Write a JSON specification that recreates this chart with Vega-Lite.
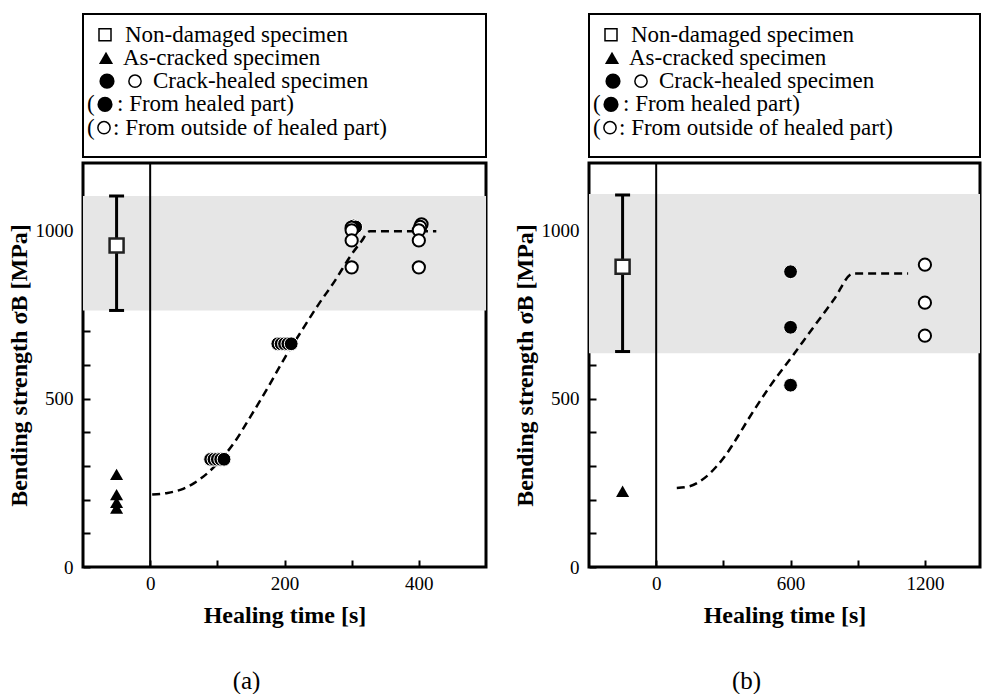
{
  "$schema": "https://vega.github.io/schema/vega-lite/v6.json",
  "padding": {"left": 5, "top": 13, "right": 0, "bottom": 0},
  "background": "white",
  "config": {
    "font": "Liberation Serif",
    "axis": {
      "labelFont": "Liberation Serif", "labelFontSize": 19, "labelColor": "black",
      "titleFont": "Liberation Serif", "titleFontSize": 24, "titleFontWeight": "bold", "titleColor": "black",
      "tickColor": "black", "tickWidth": 2, "tickSize": -7, "domain": false, "grid": false,
      "labelOverlap": false, "labelFlush": false, "labelBound": false
    },
    "title": {"font": "Liberation Serif", "fontSize": 25, "fontWeight": "normal", "color": "black"},
    "view": {"stroke": "black", "strokeWidth": 3}
  },
  "spacing": 23,
  "hconcat": [
    {
      "title": {"text": "(a)", "orient": "bottom", "anchor": "middle", "frame": "bounds", "offset": 40},
      "bounds": "flush",
      "spacing": 6,
      "vconcat": [
        {
          "width": 403, "height": 143,
          "view": {"stroke": "black", "strokeWidth": 2},
          "encoding": {
            "x": {"field": "x", "type": "quantitative", "scale": {"domain": [0, 403]}, "axis": null},
            "y": {"field": "row", "type": "quantitative", "scale": {"domain": [6.26, 0.11]}, "axis": null}
          },
          "layer": [
            {
              "data": {"values": [
                {"row": 1, "x": 42, "label": "Non-damaged specimen"},
                {"row": 2, "x": 40, "label": "As-cracked specimen"},
                {"row": 3, "x": 70, "label": "Crack-healed specimen"},
                {"row": 4, "x": 4, "label": "("},
                {"row": 4, "x": 34, "label": ": From healed part)"},
                {"row": 5, "x": 4, "label": "("},
                {"row": 5, "x": 30, "label": ": From outside of healed part)"}
              ]},
              "mark": {"type": "text", "align": "left", "baseline": "middle", "fontSize": 23, "font": "Liberation Serif", "color": "black"},
              "encoding": {"text": {"field": "label"}}
            },
            {
              "data": {"values": [{"row": 1, "x": 22}]},
              "mark": {"type": "point", "shape": "square", "size": 144, "fill": "white", "stroke": "black", "strokeWidth": 1.5, "opacity": 1}
            },
            {
              "data": {"values": [{"row": 2, "x": 23}]},
              "mark": {"type": "point", "shape": "triangle-up", "size": 200, "filled": true, "color": "black", "opacity": 1}
            },
            {
              "data": {"values": [{"row": 3, "x": 24}, {"row": 4, "x": 22}]},
              "mark": {"type": "circle", "size": 230, "color": "black", "opacity": 1}
            },
            {
              "data": {"values": [{"row": 3, "x": 52}, {"row": 5, "x": 21}]},
              "mark": {"type": "circle", "size": 150, "fill": "white", "stroke": "black", "strokeWidth": 1.5, "opacity": 1}
            }
          ]
        },
        {
          "width": 403, "height": 404,
          "encoding": {
            "x": {"field": "t", "type": "quantitative", "scale": {"domain": [-100, 500], "nice": false, "zero": false},
                  "axis": {"values": [0, 100, 200, 300, 400], "format": "d",
                           "labelExpr": "datum.value % 200 === 0 ? datum.label : ''",
                           "labelOverlap": false, "labelFlush": false,
                           "labelPadding": 14, "titlePadding": 10,
                           "title": "Healing time [s]"}},
            "y": {"field": "s", "type": "quantitative", "scale": {"domain": [0, 1200], "nice": false, "zero": false},
                  "axis": {"values": [0, 100, 200, 300, 400, 500, 600, 700, 800, 900, 1000, 1100], "format": "d",
                           "labelExpr": "datum.value % 500 === 0 ? datum.label : ''",
                           "labelOverlap": false, "labelFlush": false,
                           "labelPadding": 17, "titlePadding": 4,
                           "title": "Bending strength σB [MPa]"}}
          },
          "layer": [
            {
              "data": {"values": [{"t": -100, "t2": 500, "s": 762, "s2": 1102}]},
              "mark": {"type": "rect", "color": "#e6e6e6"},
              "encoding": {"x2": {"field": "t2"}, "y2": {"field": "s2"}}
            },
            {
              "data": {"values": [{"t": 0, "s": 0, "s2": 1200}]},
              "mark": {"type": "rule", "color": "black", "strokeWidth": 2},
              "encoding": {"y2": {"field": "s2"}}
            },
            {
              "data": {"values": [{"t": -50, "s": 762, "s2": 1102}]},
              "mark": {"type": "rule", "color": "black", "strokeWidth": 3},
              "encoding": {"y2": {"field": "s2"}}
            },
            {
              "data": {"values": [{"t": -50, "s": 762}, {"t": -50, "s": 1102}]},
              "mark": {"type": "tick", "orient": "horizontal", "size": 15, "thickness": 3, "color": "black", "opacity": 1}
            },
            {
              "data": {"values": [
                {"t": 3, "s": 215}, {"t": 26, "s": 220}, {"t": 46, "s": 230}, {"t": 66, "s": 250}, {"t": 86, "s": 280},
                {"t": 105, "s": 319}, {"t": 125, "s": 369}, {"t": 150, "s": 449}, {"t": 175, "s": 532}, {"t": 200, "s": 620},
                {"t": 225, "s": 700}, {"t": 250, "s": 778}, {"t": 275, "s": 850}, {"t": 299, "s": 926}, {"t": 314, "s": 966},
                {"t": 327, "s": 997}, {"t": 426, "s": 997}
              ]},
              "mark": {"type": "line", "color": "black", "strokeWidth": 2.5, "strokeDash": [8, 5], "interpolate": "monotone"}
            },
            {
              "data": {"values": [{"t": -50, "s": 955}]},
              "mark": {"type": "point", "shape": "square", "size": 196, "fill": "white", "stroke": "#222", "strokeWidth": 2.5, "opacity": 1}
            },
            {
              "data": {"values": [{"t": -50, "s": 275}, {"t": -50, "s": 215}, {"t": -50, "s": 192}, {"t": -50, "s": 175}]},
              "mark": {"type": "point", "shape": "triangle-up", "size": 170, "filled": true, "color": "black", "opacity": 1}
            },
            {
              "data": {"values": [
                {"t": 90, "s": 320}, {"t": 95, "s": 320}, {"t": 100, "s": 320}, {"t": 105, "s": 320}, {"t": 110, "s": 320},
                {"t": 190, "s": 663}, {"t": 195, "s": 663}, {"t": 200, "s": 663}, {"t": 205, "s": 663}, {"t": 210, "s": 663},
                {"t": 303, "s": 1013}, {"t": 306, "s": 1010}
              ]},
              "mark": {"type": "circle", "size": 190, "fill": "black", "stroke": "white", "strokeWidth": 1, "opacity": 1}
            },
            {
              "data": {"values": [
                {"t": 300, "s": 1008}, {"t": 300, "s": 1000}, {"t": 300, "s": 970}, {"t": 300, "s": 890},
                {"t": 404, "s": 1018}, {"t": 402, "s": 1010}, {"t": 400, "s": 1000}, {"t": 400, "s": 970}, {"t": 400, "s": 890}
              ]},
              "mark": {"type": "circle", "size": 150, "fill": "white", "stroke": "black", "strokeWidth": 2, "opacity": 1}
            }
          ]
        }
      ]
    },
    {
      "title": {"text": "(b)", "orient": "bottom", "anchor": "middle", "frame": "bounds", "offset": 40},
      "bounds": "flush",
      "spacing": 6,
      "vconcat": [
        {
          "width": 391, "height": 143,
          "view": {"stroke": "black", "strokeWidth": 2},
          "encoding": {
            "x": {"field": "x", "type": "quantitative", "scale": {"domain": [0, 391]}, "axis": null},
            "y": {"field": "row", "type": "quantitative", "scale": {"domain": [6.26, 0.11]}, "axis": null}
          },
          "layer": [
            {
              "data": {"values": [
                {"row": 1, "x": 42, "label": "Non-damaged specimen"},
                {"row": 2, "x": 40, "label": "As-cracked specimen"},
                {"row": 3, "x": 70, "label": "Crack-healed specimen"},
                {"row": 4, "x": 4, "label": "("},
                {"row": 4, "x": 34, "label": ": From healed part)"},
                {"row": 5, "x": 4, "label": "("},
                {"row": 5, "x": 30, "label": ": From outside of healed part)"}
              ]},
              "mark": {"type": "text", "align": "left", "baseline": "middle", "fontSize": 23, "font": "Liberation Serif", "color": "black"},
              "encoding": {"text": {"field": "label"}}
            },
            {
              "data": {"values": [{"row": 1, "x": 22}]},
              "mark": {"type": "point", "shape": "square", "size": 144, "fill": "white", "stroke": "black", "strokeWidth": 1.5, "opacity": 1}
            },
            {
              "data": {"values": [{"row": 2, "x": 23}]},
              "mark": {"type": "point", "shape": "triangle-up", "size": 200, "filled": true, "color": "black", "opacity": 1}
            },
            {
              "data": {"values": [{"row": 3, "x": 24}, {"row": 4, "x": 22}]},
              "mark": {"type": "circle", "size": 230, "color": "black", "opacity": 1}
            },
            {
              "data": {"values": [{"row": 3, "x": 52}, {"row": 5, "x": 21}]},
              "mark": {"type": "circle", "size": 150, "fill": "white", "stroke": "black", "strokeWidth": 1.5, "opacity": 1}
            }
          ]
        },
        {
          "width": 391, "height": 404,
          "encoding": {
            "x": {"field": "t", "type": "quantitative", "scale": {"domain": [-300, 1446], "nice": false, "zero": false},
                  "axis": {"values": [0, 300, 600, 900, 1200], "format": "d",
                           "labelExpr": "datum.value % 600 === 0 ? datum.label : ''",
                           "labelOverlap": false, "labelFlush": false,
                           "labelPadding": 14, "titlePadding": 10,
                           "title": "Healing time [s]"}},
            "y": {"field": "s", "type": "quantitative", "scale": {"domain": [0, 1200], "nice": false, "zero": false},
                  "axis": {"values": [0, 100, 200, 300, 400, 500, 600, 700, 800, 900, 1000, 1100], "format": "d",
                           "labelExpr": "datum.value % 500 === 0 ? datum.label : ''",
                           "labelOverlap": false, "labelFlush": false,
                           "labelPadding": 17, "titlePadding": 4,
                           "title": "Bending strength σB [MPa]"}}
          },
          "layer": [
            {
              "data": {"values": [{"t": -300, "t2": 1446, "s": 635, "s2": 1108}]},
              "mark": {"type": "rect", "color": "#e6e6e6"},
              "encoding": {"x2": {"field": "t2"}, "y2": {"field": "s2"}}
            },
            {
              "data": {"values": [{"t": 0, "s": 0, "s2": 1200}]},
              "mark": {"type": "rule", "color": "black", "strokeWidth": 2},
              "encoding": {"y2": {"field": "s2"}}
            },
            {
              "data": {"values": [{"t": -150, "s": 640, "s2": 1105}]},
              "mark": {"type": "rule", "color": "black", "strokeWidth": 3},
              "encoding": {"y2": {"field": "s2"}}
            },
            {
              "data": {"values": [{"t": -150, "s": 640}, {"t": -150, "s": 1105}]},
              "mark": {"type": "tick", "orient": "horizontal", "size": 15, "thickness": 3, "color": "black", "opacity": 1}
            },
            {
              "data": {"values": [
                {"t": 92, "s": 235}, {"t": 150, "s": 240}, {"t": 196, "s": 255}, {"t": 235, "s": 275}, {"t": 271, "s": 300},
                {"t": 310, "s": 332}, {"t": 345, "s": 367}, {"t": 419, "s": 447}, {"t": 503, "s": 532}, {"t": 612, "s": 630},
                {"t": 700, "s": 710}, {"t": 791, "s": 792}, {"t": 880, "s": 872}, {"t": 1125, "s": 872}
              ]},
              "mark": {"type": "line", "color": "black", "strokeWidth": 2.5, "strokeDash": [8, 5], "interpolate": "monotone"}
            },
            {
              "data": {"values": [{"t": -150, "s": 892}]},
              "mark": {"type": "point", "shape": "square", "size": 196, "fill": "white", "stroke": "#222", "strokeWidth": 2.5, "opacity": 1}
            },
            {
              "data": {"values": [{"t": -150, "s": 225}]},
              "mark": {"type": "point", "shape": "triangle-up", "size": 170, "filled": true, "color": "black", "opacity": 1}
            },
            {
              "data": {"values": [{"t": 600, "s": 877}, {"t": 600, "s": 712}, {"t": 600, "s": 540}]},
              "mark": {"type": "circle", "size": 190, "fill": "black", "stroke": "white", "strokeWidth": 1, "opacity": 1}
            },
            {
              "data": {"values": [{"t": 1200, "s": 898}, {"t": 1200, "s": 785}, {"t": 1200, "s": 687}]},
              "mark": {"type": "circle", "size": 150, "fill": "white", "stroke": "black", "strokeWidth": 2, "opacity": 1}
            }
          ]
        }
      ]
    }
  ]
}
